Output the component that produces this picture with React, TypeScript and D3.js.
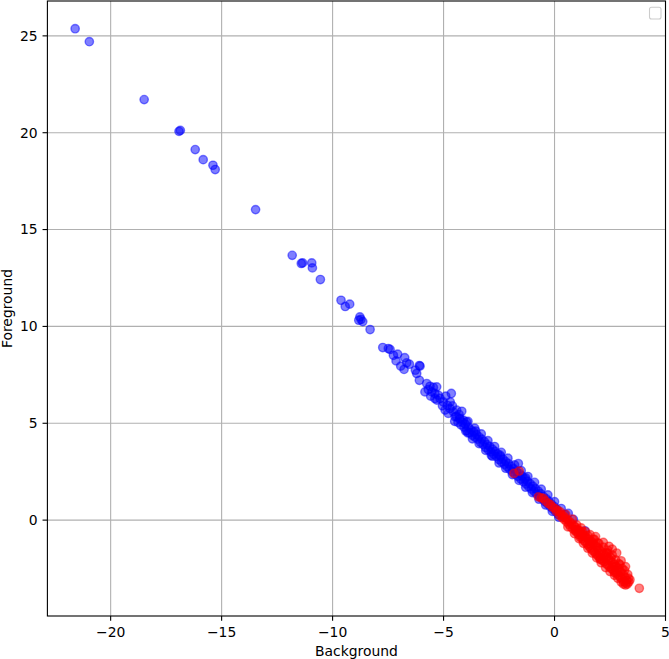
import React from "react";
import { scaleLinear } from "d3";

// background (blue) points: [Background, Foreground]
const backgroundPts: [number, number][] = [
  [-21.6, 25.37], [-20.96, 24.7], [-18.49, 21.71], [-16.92, 20.07], [-16.86, 20.12],
  [-16.19, 19.13], [-15.83, 18.61], [-15.39, 18.32], [-15.29, 18.1], [-13.47, 16.03],
  [-11.82, 13.67], [-11.41, 13.25], [-11.35, 13.28], [-10.94, 13.28], [-10.91, 13.02],
  [-10.55, 12.42], [-9.62, 11.35], [-9.43, 11.03], [-9.23, 11.15], [-8.77, 10.49],
  [-8.72, 10.36], [-8.82, 10.32], [-8.64, 10.25], [-8.31, 9.84], [-7.74, 8.91],
  [-7.49, 8.86], [-7.41, 8.81], [-7.26, 8.51], [-7.07, 8.57], [-7.14, 8.22],
  [-6.75, 8.39], [-6.66, 8.12], [-6.54, 8.05], [-6.78, 7.78], [-6.93, 7.95],
  [-6.09, 7.98], [-6.27, 7.74], [-6.21, 7.57], [-6.09, 7.22], [-6.06, 7.95],
  [-5.76, 7.05], [-5.61, 6.91], [-5.46, 6.85], [-5.31, 6.88], [-5.69, 6.74],
  [-5.53, 6.62], [-5.84, 6.62], [-5.39, 6.54], [-5.24, 6.45], [-5.58, 6.4],
  [-5.16, 6.28], [-5.39, 6.28], [-4.65, 6.54], [-5.01, 6.1], [-4.83, 5.93],
  [-4.71, 5.76], [-4.93, 5.68], [-4.56, 5.59], [-4.41, 5.68], [-4.18, 5.62],
  [-4.79, 5.51], [-4.48, 5.33], [-4.26, 5.25], [-4.11, 5.16], [-3.96, 5.07],
  [-4.42, 5.35], [-4.35, 5.05], [-4.28, 5.22], [-4.22, 4.92], [-4.15, 5.05],
  [-4.08, 4.8], [-4.02, 4.95], [-3.95, 4.62], [-3.88, 4.8], [-3.82, 4.5],
  [-3.76, 4.66], [-3.7, 4.38], [-3.64, 4.55], [-3.58, 4.28], [-3.52, 4.42],
  [-3.46, 4.18], [-3.4, 4.3], [-3.34, 4.02], [-3.28, 4.18], [-3.22, 3.9],
  [-3.16, 4.05], [-3.1, 3.75], [-3.04, 3.9], [-2.98, 3.62], [-2.92, 3.8],
  [-2.86, 3.52], [-2.8, 3.66], [-2.74, 3.4], [-2.68, 3.55], [-2.62, 3.28],
  [-2.56, 3.42], [-2.5, 3.12], [-2.44, 3.28], [-2.38, 3.0], [-2.32, 3.15],
  [-2.26, 2.88], [-2.2, 3.02], [-2.14, 2.75], [-2.08, 2.92], [-2.02, 2.62],
  [-1.96, 2.78], [-1.9, 2.5], [-1.84, 2.65], [-1.78, 2.38], [-1.72, 2.52],
  [-1.66, 2.26], [-1.58, 2.4], [-1.52, 2.12], [-1.46, 2.28], [-1.4, 1.98],
  [-1.34, 2.12], [-1.28, 1.86], [-1.22, 2.0], [-1.16, 1.72], [-1.1, 1.88],
  [-1.04, 1.6], [-0.98, 1.75], [-0.92, 1.48], [-0.86, 1.62], [-0.8, 1.34],
  [-0.74, 1.5], [-0.68, 1.22], [-0.62, 1.36], [-0.56, 1.1], [-0.5, 1.22],
  [-0.44, 0.96], [-0.38, 1.1], [-0.32, 0.84], [-0.26, 0.98], [-0.2, 0.7],
  [-0.14, 0.82], [-0.08, 0.58], [-0.02, 0.7], [0.04, 0.44], [0.1, 0.55],
  [0.16, 0.3], [-1.63, 2.92], [-1.3, 2.18], [0.62, 0.35], [0.85, 0.04],
  [1.37, -0.55], [-3.55, 4.6], [-2.85, 3.35], [-2.45, 3.35], [-3.9, 4.5],
  [-4.6, 5.9], [-4.5, 5.1], [-4.3, 5.45], [-4.0, 4.6], [-3.9, 5.1],
  [-3.7, 4.2], [-3.6, 4.75], [-3.4, 3.95], [-3.3, 4.45], [-3.1, 3.6],
  [-3.0, 4.1], [-2.8, 3.3], [-2.7, 3.8], [-2.5, 2.95], [-2.4, 3.5],
  [-2.2, 2.68], [-2.1, 3.2], [-1.9, 2.35], [-1.8, 2.85], [-1.6, 2.05],
  [-1.5, 2.55], [-1.3, 1.7], [-1.2, 2.25], [-1.0, 1.42], [-0.9, 1.95],
  [-0.7, 1.08], [-0.6, 1.6], [-0.4, 0.78], [-0.3, 1.3], [-0.1, 0.45],
  [0.0, 0.95], [0.2, 0.15], [0.3, 0.6], [0.45, 0.3], [-4.7, 6.1],
  [-4.9, 6.4], [-5.05, 5.9], [-5.3, 6.2],
];

// foreground (red) points
const foregroundPts: [number, number][] = [
  [-1.83, 2.41], [-1.59, 2.53], [-0.73, 1.2], [-0.6, 1.15], [-0.5, 1.12],
  [-0.4, 0.98], [-0.28, 0.86], [-0.18, 0.8], [-0.1, 0.68], [0.02, 0.6],
  [0.08, 0.45], [0.15, 0.5], [0.25, 0.43], [0.22, 0.25], [0.3, 0.3],
  [0.35, 0.12], [0.4, 0.22], [0.45, 0.02], [0.5, 0.1], [0.55, -0.1],
  [0.6, 0.0], [0.65, -0.22], [0.7, -0.1], [0.72, -0.35], [0.78, -0.2],
  [0.82, -0.45], [0.88, -0.3], [0.92, -0.55], [0.96, -0.38], [1.0, -0.62],
  [1.04, -0.48], [1.08, -0.75], [1.12, -0.55], [1.15, -0.88], [1.2, -0.65],
  [1.24, -0.95], [1.28, -0.75], [1.32, -1.05], [1.36, -0.82], [1.4, -1.15],
  [1.44, -0.9], [1.48, -1.25], [1.52, -0.98], [1.55, -1.35], [1.6, -1.05],
  [1.63, -1.45], [1.68, -1.12], [1.7, -1.55], [1.75, -1.22], [1.78, -1.62],
  [1.82, -1.3], [1.85, -1.72], [1.9, -1.38], [1.92, -1.8], [1.97, -1.45],
  [2.0, -1.9], [2.04, -1.55], [2.08, -2.0], [2.12, -1.62], [2.15, -2.08],
  [2.2, -1.72], [2.24, -2.15], [2.28, -1.8], [2.32, -2.25], [2.36, -1.9],
  [2.4, -2.32], [2.45, -2.0], [2.48, -2.42], [2.52, -2.1], [2.56, -2.5],
  [2.6, -2.18], [2.64, -2.58], [2.68, -2.28], [2.72, -2.65], [2.76, -2.38],
  [2.8, -2.75], [2.85, -2.48], [2.88, -2.85], [2.92, -2.58], [2.96, -2.95],
  [3.0, -2.7], [3.05, -3.05], [3.1, -2.8], [3.12, -3.18], [3.18, -2.95],
  [3.22, -3.25], [3.25, -3.1], [3.33, -3.0], [3.4, -3.08], [3.28, -3.3],
  [1.95, -1.18], [2.05, -2.02], [1.5, -0.8], [2.4, -1.72], [2.55, -1.95],
  [2.7, -2.72], [2.35, -1.68], [1.75, -1.0], [1.25, -0.58], [2.9, -2.25],
  [3.05, -2.5], [3.82, -3.52],
  [0.5, 0.3], [0.6, -0.35], [0.8, 0.05], [0.9, -0.7], [1.0, -0.25],
  [1.1, -0.95], [1.2, -0.4], [1.3, -1.2], [1.4, -0.6], [1.5, -1.45],
  [1.6, -0.75], [1.7, -1.7], [1.8, -1.0], [1.9, -1.95], [2.0, -1.2],
  [2.1, -2.2], [2.2, -1.4], [2.3, -2.45], [2.4, -1.55], [2.5, -2.65],
  [2.6, -1.8], [2.7, -2.85], [2.75, -2.05], [2.85, -3.0], [2.95, -2.3],
  [3.0, -3.2], [3.15, -2.6], [3.2, -3.35], [3.3, -2.8], [3.35, -3.2],
  [3.1, -3.3], [2.0, -1.7], [1.6, -1.25], [2.3, -2.0], [2.65, -2.4],
  [1.2, -0.8], [0.95, -0.5],
  [2.6, -1.5], [2.8, -1.7], [3.0, -2.1], [3.2, -2.4], [2.45, -1.35],
  [2.2, -1.15], [1.85, -0.85],
];

const xTicks = [-20, -15, -10, -5, 0, 5];
const yTicks = [0, 5, 10, 15, 20, 25];
const xDomain = [-22.85, 5.0];
const yDomain = [-4.95, 26.8];

const W = 669, H = 659;
const margin = { top: 1, right: 3.5, bottom: 43, left: 47.4 };
const font = "'DejaVu Sans', sans-serif";
const fmt = (v: number) => (v < 0 ? "\u2212" + Math.abs(v) : String(v));

export default function App() {
  const x = scaleLinear().domain(xDomain).range([margin.left, W - margin.right]);
  const y = scaleLinear().domain(yDomain).range([H - margin.bottom, margin.top]);
  const x0 = margin.left, x1 = W - margin.right;
  const y0 = H - margin.bottom, y1 = margin.top;
  const r = 4.17;

  return (
    <svg width={W} height={H} style={{ position: "absolute", left: 0, top: 0, background: "#fff" }}>
      {/* grid */}
      {xTicks.filter(t => x(t) <= x1 + 0.5).map(t => (
        <line key={"gx" + t} x1={x(t)} x2={x(t)} y1={y0} y2={y1} stroke="#b0b0b0" strokeWidth={1.1} />
      ))}
      {yTicks.map(t => (
        <line key={"gy" + t} x1={x0} x2={x1} y1={y(t)} y2={y(t)} stroke="#b0b0b0" strokeWidth={1.1} />
      ))}

      {/* points */}
      <g>
        {backgroundPts.map((d, i) => (
          <circle key={"b" + i} cx={x(d[0])} cy={y(d[1])} r={r}
            fill="blue" fillOpacity={0.5} stroke="blue" strokeOpacity={0.5} strokeWidth={1.39} />
        ))}
        {foregroundPts.map((d, i) => (
          <circle key={"f" + i} cx={x(d[0])} cy={y(d[1])} r={r}
            fill="red" fillOpacity={0.5} stroke="red" strokeOpacity={0.5} strokeWidth={1.39} />
        ))}
      </g>

      {/* spines */}
      <rect x={x0} y={y1} width={x1 - x0} height={y0 - y1} fill="none" stroke="#000" strokeWidth={1.1} />

      {/* x ticks */}
      {xTicks.map(t => (
        <g key={"tx" + t} transform={`translate(${x(t)},${y0})`}>
          <line y2={4.86} stroke="#000" strokeWidth={1.1} />
          <text y={21} textAnchor="middle" fontFamily={font} fontSize={13.9}>{fmt(t)}</text>
        </g>
      ))}
      {/* y ticks */}
      {yTicks.map(t => (
        <g key={"ty" + t} transform={`translate(${x0},${y(t)})`}>
          <line x2={-4.86} stroke="#000" strokeWidth={1.1} />
          <text x={-9.7} dy="0.35em" textAnchor="end" fontFamily={font} fontSize={13.9}>{fmt(t)}</text>
        </g>
      ))}

      {/* axis labels */}
      <text x={(x0 + x1) / 2} y={656} textAnchor="middle" fontFamily={font} fontSize={13.9}>Background</text>
      <text transform={`translate(12,${(y0 + y1) / 2}) rotate(-90)`} textAnchor="middle" fontFamily={font} fontSize={13.9}>Foreground</text>

      {/* empty legend */}
      <rect x={649.5} y={7.3} width={11.5} height={11.7} rx={2} fill="#fff" fillOpacity={0.8}
        stroke="#cccccc" strokeWidth={1.1} />
    </svg>
  );
}
